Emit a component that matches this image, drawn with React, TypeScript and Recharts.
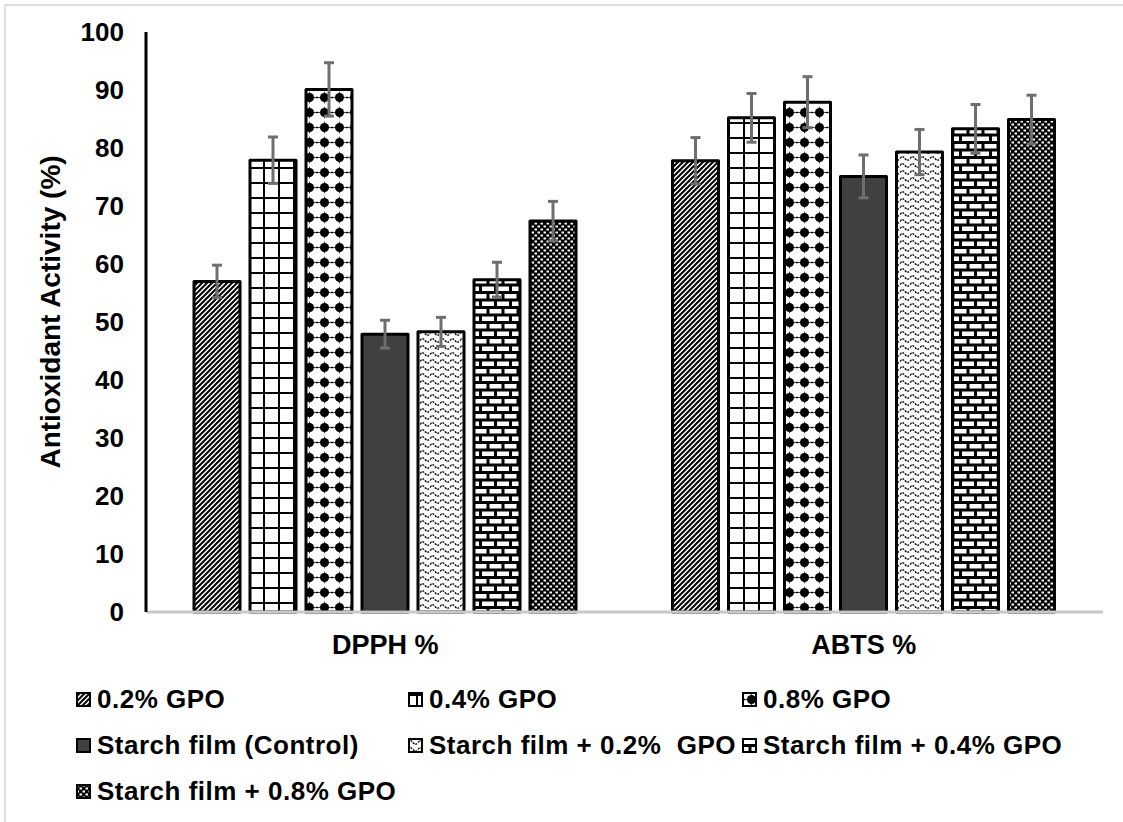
import React from 'react';
import { BarChart, Bar, XAxis, YAxis, ErrorBar, Label } from 'recharts';

const categories = ['DPPH %', 'ABTS %'];
const seriesNames = [
  '0.2% GPO',
  '0.4% GPO',
  '0.8% GPO',
  'Starch film (Control)',
  'Starch film + 0.2%  GPO',
  'Starch film + 0.4% GPO',
  'Starch film + 0.8% GPO',
];
const gpo02 = [57.0, 77.8];
const gpo04 = [77.9, 85.2];
const gpo08 = [90.1, 87.9];
const control = [47.9, 75.1];
const film02 = [48.3, 79.3];
const film04 = [57.3, 83.3];
const film08 = [67.4, 84.9];
const err02 = [2.8, 4.0];
const err04 = [4.0, 4.2];
const err08 = [4.6, 4.4];
const errCtrl = [2.4, 3.7];
const errF02 = [2.5, 3.9];
const errF04 = [3.0, 4.2];
const errF08 = [3.4, 4.2];
const yTicks = [0, 10, 20, 30, 40, 50, 60, 70, 80, 90, 100];

const values = [gpo02, gpo04, gpo08, control, film02, film04, film08];
const errors = [err02, err04, err08, errCtrl, errF02, errF04, errF08];
const fills = ['url(#p1)', 'url(#p2)', 'url(#p3)', '#404040', 'url(#p5)', 'url(#p6)', 'url(#p7)'];

const data = categories.map((c, ci) => {
  const row: any = { name: c };
  values.forEach((v, si) => {
    row['s' + si] = v[ci];
    row['e' + si] = errors[si][ci];
  });
  return row;
});

const FONT = '"Liberation Sans", Arial, sans-serif';

const Patterns = () => (
  <svg width="0" height="0" style={{ position: 'absolute', left: 0, top: 0 }}>
    <defs>
      <pattern id="p1" patternUnits="userSpaceOnUse" width="5" height="5">
        <rect width="5" height="5" fill="#fff" />
        <path d="M-1,6 L6,-1 M-1,1 L1,-1 M4,6 L6,4" stroke="#000" strokeWidth="2" />
      </pattern>
      <pattern id="p2" patternUnits="userSpaceOnUse" width="15" height="15" x="8" y="2">
        <rect width="15" height="15" fill="#fff" />
        <rect x="0" y="0" width="2" height="15" fill="#000" />
        <rect x="0" y="0" width="15" height="2" fill="#000" />
      </pattern>
      <pattern id="p3" patternUnits="userSpaceOnUse" width="15" height="15" x="2" y="0">
        <rect width="15" height="15" fill="#fff" />
        <circle cx="7.5" cy="7.5" r="4.5" fill="#000" />
        <path d="M7.5,1 L9.3,7.5 L7.5,14 L5.7,7.5 Z" fill="#000" />
        <path d="M1,7.5 L7.5,5.7 L14,7.5 L7.5,9.3 Z" fill="#000" />
        <rect x="0" y="6.8" width="1.5" height="1.4" fill="#000" />
        <rect x="13.5" y="6.8" width="1.5" height="1.4" fill="#000" />
      </pattern>
      <pattern id="p5" patternUnits="userSpaceOnUse" width="10" height="7">
        <rect width="10" height="7" fill="#fff" />
        <path d="M0,4.5 Q2.5,1 5,4.5 T10,4.5" stroke="#111" strokeWidth="1.4" fill="none" strokeDasharray="2 1" />
      </pattern>
      <pattern id="p6" patternUnits="userSpaceOnUse" width="30" height="15">
        <rect width="30" height="15" fill="#000" />
        <rect x="2" y="1.5" width="12" height="4.5" fill="#fff" />
        <rect x="17" y="1.5" width="12" height="4.5" fill="#fff" />
        <rect x="0" y="9" width="6.5" height="4.5" fill="#fff" />
        <rect x="9.5" y="9" width="12" height="4.5" fill="#fff" />
        <rect x="24.5" y="9" width="5.5" height="4.5" fill="#fff" />
      </pattern>
      <pattern id="p7" patternUnits="userSpaceOnUse" width="6" height="6">
        <rect width="6" height="6" fill="#000" />
        <rect x="0.5" y="0.5" width="2.5" height="2" fill="#fff" />
        <rect x="3.5" y="3.5" width="2.5" height="2" fill="#fff" />
      </pattern>
    </defs>
  </svg>
);

const legendCols = [76, 408, 742];
const legendRows = [699, 745, 791];

const LegendBlock = () => (
  <>
    {seriesNames.map((n, i) => {
      const col = i % 3;
      const row = Math.floor(i / 3);
      return (
        <div
          key={n}
          style={{
            position: 'absolute',
            left: legendCols[col],
            top: legendRows[row] - 16,
            height: 32,
            display: 'flex',
            alignItems: 'center',
            fontFamily: FONT,
            fontWeight: 'bold',
            fontSize: 26,
            letterSpacing: 0.5,
            color: '#000',
            whiteSpace: 'pre',
          }}
        >
          <svg width="15" height="15" style={{ marginRight: 6 }}>
            <rect x="1" y="1" width="13" height="13" fill={fills[i]} stroke="#000" strokeWidth="2" />
          </svg>
          <span>{n}</span>
        </div>
      );
    })}
  </>
);

const YTitle = (props: any) => {
  const x = 50;
  const y = 312;
  return (
    <text
      x={x}
      y={y}
      transform={`rotate(-90 ${x} ${y})`}
      textAnchor="middle"
      dominantBaseline="central"
      fontFamily={FONT}
      fontWeight="bold"
      fontSize={28}
      fill="#000"
    >
      Antioxidant Activity (%)
    </text>
  );
};

export default function App() {
  return (
    <div style={{ position: 'absolute', left: 0, top: 0, width: 1123, height: 822, background: '#fff', overflow: 'hidden' }}>
      <Patterns />
      <div
        style={{
          position: 'absolute',
          left: 4,
          top: 4,
          width: 1130,
          height: 830,
          borderTop: '2px solid #dcdcdc',
          borderLeft: '2px solid #dcdcdc',
        }}
      />
      <div style={{ position: 'absolute', left: 0, top: 0 }}>
        <BarChart
          width={1123}
          height={660}
          data={data}
          margin={{ top: 32, right: 20, left: 0, bottom: 0 }}
          barCategoryGap={48}
          barGap={10}
        >
          <XAxis
            dataKey="name"
            height={48}
            axisLine={{ stroke: '#c8c8c8', strokeWidth: 3 }}
            tickLine={false}
            tickSize={0}
            tickMargin={23}
            tick={{ fill: '#000', fontSize: 27, fontWeight: 'bold', fontFamily: FONT }}
          />
          <XAxis
            xAxisId="top"
            dataKey="name"
            orientation="top"
            height={0}
            tick={false}
            tickLine={false}
            axisLine={{ stroke: '#000', strokeWidth: 3 }}
          />
          <YAxis
            width={146}
            domain={[0, 100]}
            ticks={yTicks}
            interval={0}
            axisLine={{ stroke: '#000', strokeWidth: 3 }}
            tickLine={false}
            tickSize={0}
            tickMargin={22}
            tick={{ fill: '#000', fontSize: 26, fontWeight: 'bold', fontFamily: FONT }}
          >
            <Label content={<YTitle />} />
          </YAxis>
          <YAxis
            yAxisId="right"
            orientation="right"
            width={0}
            domain={[0, 100]}
            tick={false}
            tickLine={false}
            axisLine={{ stroke: '#000', strokeWidth: 3 }}
          />
          {seriesNames.map((n, i) => (
            <Bar
              key={n}
              dataKey={'s' + i}
              name={n}
              fill={fills[i]}
              stroke="#000"
              strokeWidth={3}
              strokeLinejoin="round"
              isAnimationActive={false}
            >
              <ErrorBar dataKey={'e' + i} width={5} stroke="#6e6e6e" strokeWidth={3} direction="y" />
            </Bar>
          ))}
        </BarChart>
      </div>
      <LegendBlock />
    </div>
  );
}
